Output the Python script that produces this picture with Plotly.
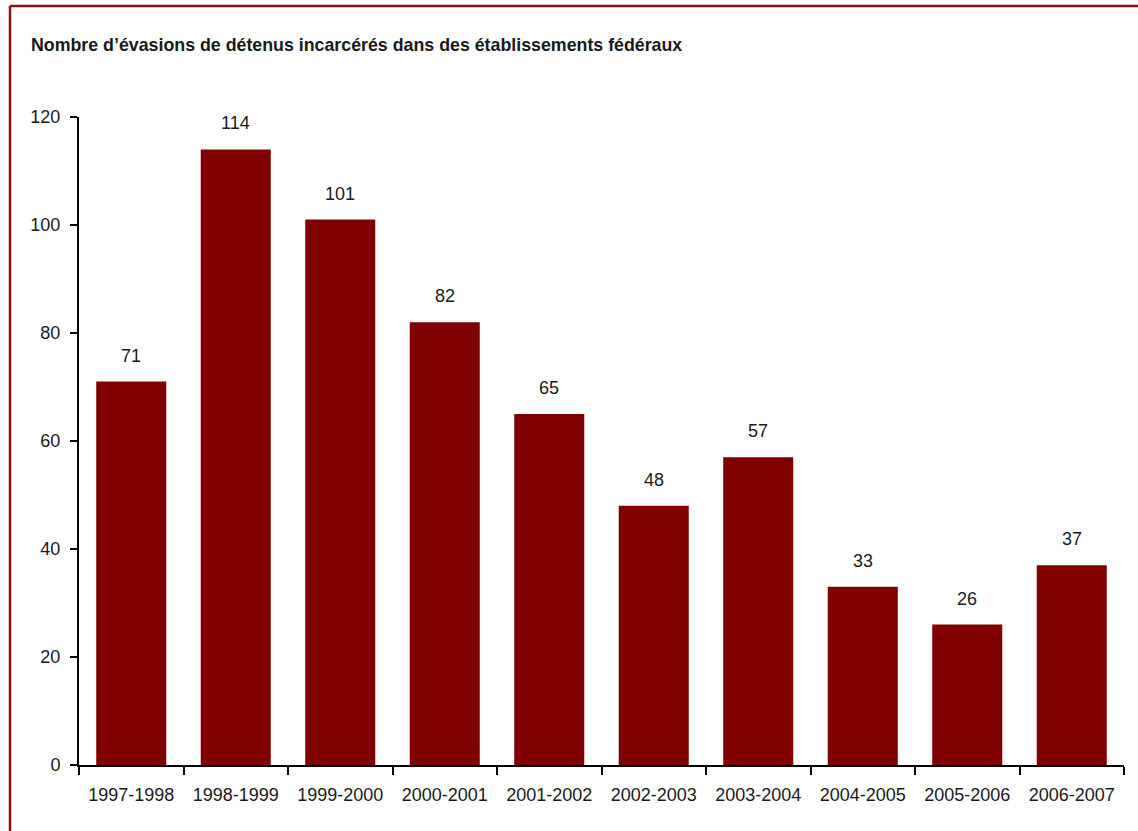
import plotly.graph_objects as go

# Escapes from federal institutions, by fiscal year
periods = ["1997-1998", "1998-1999", "1999-2000", "2000-2001", "2001-2002",
           "2002-2003", "2003-2004", "2004-2005", "2005-2006", "2006-2007"]
escapes = [71, 114, 101, 82, 65, 48, 57, 33, 26, 37]
y_ticks = [0, 20, 40, 60, 80, 100, 120]

title_text = "Nombre d\u2019évasions de détenus incarcérés dans des établissements fédéraux"

W, H = 1138, 831
ML, MR, MT, MB = 79, 14, 117, 66
PW, PH = W - ML - MR, H - MT - MB

FONT = "Liberation Sans, Arial, sans-serif"
BAR = "#800000"
FRAME = "#8B1010"
TXT = "#1a1a1a"
FS = 18


def px_to_paper_x(px):
    return (px - ML) / PW


def px_to_paper_y(py):
    return 1 - (py - MT) / PH


fig = go.Figure(
    go.Bar(x=periods, y=escapes, marker=dict(color=BAR, line=dict(width=0)),
           hoverinfo="x+y")
)

# value labels above each bar
for p, v in zip(periods, escapes):
    fig.add_annotation(x=p, y=v, text=str(v), showarrow=False, yshift=26,
                       font=dict(family=FONT, size=FS, color=TXT))

# title
fig.add_annotation(xref="paper", yref="paper", x=px_to_paper_x(29), y=px_to_paper_y(45),
                   xanchor="left", yanchor="middle", showarrow=False,
                   text="<b>" + title_text + "</b>",
                   font=dict(family=FONT, size=17.8, color=TXT))

# frame around the chart (continues past the right and bottom edges)
fx0, fy0 = px_to_paper_x(10), px_to_paper_y(6)
fx1, fy1 = px_to_paper_x(W + 20), px_to_paper_y(H + 20)
fig.add_shape(type="line", xref="paper", yref="paper", x0=fx0, y0=fy0, x1=fx1, y1=fy0,
              line=dict(color=FRAME, width=2.5))
fig.add_shape(type="line", xref="paper", yref="paper", x0=fx0, y0=fy0, x1=fx0, y1=fy1,
              line=dict(color=FRAME, width=2.5))

fig.update_layout(
    width=W, height=H,
    margin=dict(l=ML, r=MR, t=MT, b=MB, autoexpand=False),
    paper_bgcolor="white", plot_bgcolor="white",
    bargap=0.33,
    showlegend=False,
    font=dict(family=FONT, size=FS, color=TXT),
)
fig.update_xaxes(
    type="category", showline=True, linecolor="black", linewidth=2,
    ticks="outside", tickson="boundaries", ticklen=8, tickwidth=2, tickcolor="black",
    ticklabelstandoff=12, showgrid=False, zeroline=False,
    tickfont=dict(family=FONT, size=FS, color=TXT),
)
fig.update_yaxes(
    range=[0, 120], tickvals=y_ticks, showline=True, linecolor="black", linewidth=2,
    ticks="outside", ticklen=7, tickwidth=2, tickcolor="black",
    ticklabelstandoff=6, showgrid=False, zeroline=False,
    tickfont=dict(family=FONT, size=FS, color=TXT),
)

fig.write_html("out.html")
